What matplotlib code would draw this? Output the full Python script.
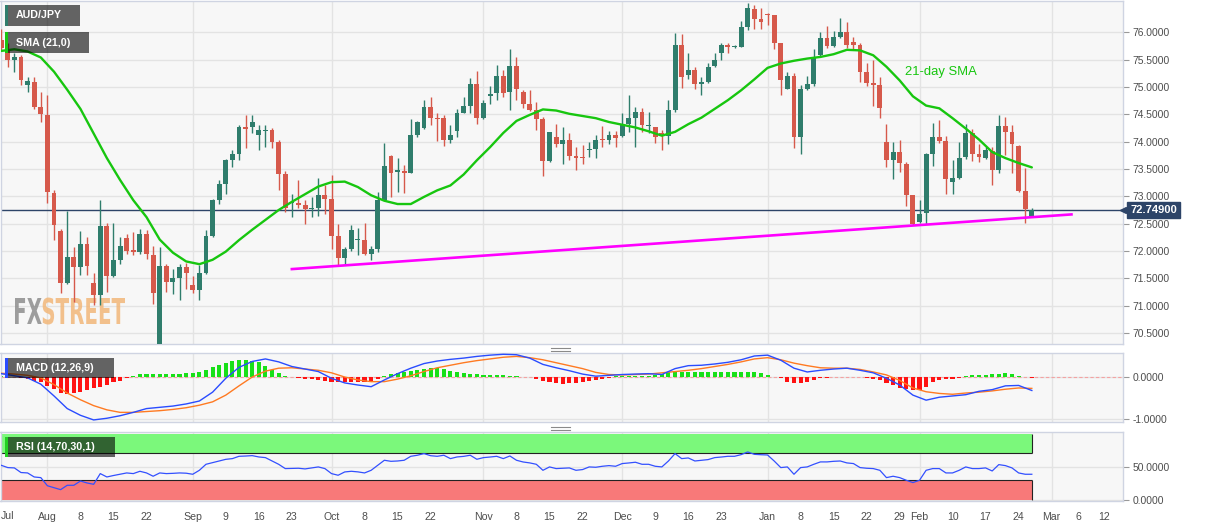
import numpy as np
import pandas as pd
import matplotlib
matplotlib.use("Agg")
import matplotlib.pyplot as plt
from matplotlib.patches import Rectangle, PathPatch
from matplotlib.lines import Line2D
from matplotlib.textpath import TextPath
from matplotlib.font_manager import FontProperties
from matplotlib.transforms import Affine2D, blended_transform_factory

plt.rcParams['font.family'] = ['Liberation Sans', 'DejaVu Sans']

# ---------------- data (AUD/JPY daily) ----------------
dates = pd.bdate_range("2019-07-23", "2020-02-26")

open_ = [
    75.86, 75.70, 75.50, 75.54, 75.03, 75.10, 74.64,  # Jul
    74.49, 73.07, 72.37, 71.42, 71.90, 71.71, 72.12, 71.42, 71.20, 72.45, 71.54, 71.84, 72.23, 72.01, 71.98, 72.32,
    71.92, 70.20, 71.72, 71.43, 71.50, 71.70,  # Aug
    71.37, 71.28, 71.59, 72.27, 72.93, 73.22, 73.67, 73.78, 74.27, 74.27, 74.13, 74.20, 74.21, 73.99, 73.40, 72.87,
    72.88, 72.85, 72.76, 72.78, 73.02,  # Sep
    72.95, 72.28, 71.88, 72.04, 72.20, 72.21, 71.95, 72.04, 72.94, 73.73, 73.45, 73.47, 73.43, 74.12, 74.25, 74.63,
    74.44, 74.43, 74.04, 74.20, 74.53, 74.65, 75.05,  # Oct
    74.44, 74.84, 74.89, 75.20, 74.91, 75.39, 74.90, 74.69, 74.58, 74.41, 73.64, 74.08, 73.95, 74.03, 73.74, 73.72,
    73.84, 73.86, 74.05, 74.04, 74.12,  # Nov
    74.10, 74.33, 74.44, 74.55, 74.28, 74.26, 74.16, 74.10, 74.58, 75.77, 75.22, 75.31, 75.05, 75.10, 75.38, 75.63,
    75.76, 75.73, 75.74, 76.10, 76.42, 76.24,  # Dec
    76.33, 76.32, 75.81, 74.97, 75.20, 74.09, 74.97, 75.05, 75.58, 75.89, 75.75, 75.91, 76.01, 75.83, 75.76, 75.27,
    75.08, 75.04, 74.00, 73.66, 73.81, 73.60, 73.02,  # Jan
    72.53, 72.70, 73.77, 74.08, 74.02, 73.27, 73.33, 73.72, 74.16, 73.77, 73.71, 73.83, 73.48, 74.28, 74.17, 73.92,
    73.10, 72.65,  # Feb
]
high = [
    76.07, 75.80, 75.62, 75.58, 75.19, 75.19, 74.90,
    74.85, 73.11, 72.41, 72.73, 72.07, 72.37, 72.25, 71.59, 72.94, 72.51, 72.51, 72.25, 72.32, 72.34, 72.41, 72.38,
    72.10, 72.07, 71.77, 71.68, 71.77, 71.78,
    71.54, 71.74, 72.38, 72.96, 73.30, 73.69, 73.84, 74.30, 74.49, 74.49, 74.30, 74.30, 74.25, 74.03, 73.47, 73.05,
    73.30, 72.93, 72.99, 73.33, 73.20,
    73.39, 72.49, 72.07, 72.47, 72.43, 72.51, 72.10, 73.08, 73.97, 73.75, 73.71, 73.58, 74.41, 74.38, 74.76, 74.82,
    74.52, 74.49, 74.30, 74.59, 74.82, 75.16, 75.30,
    74.76, 75.02, 75.41, 75.31, 75.69, 75.55, 74.94, 74.94, 74.73, 74.46, 74.18, 74.33, 74.27, 74.16, 73.91, 73.94,
    74.00, 74.12, 74.29, 74.19, 74.19,
    74.52, 74.85, 74.64, 74.61, 74.55, 74.27, 74.21, 74.77, 75.98, 75.97, 75.63, 75.37, 75.19, 75.44, 75.62, 75.80,
    75.80, 75.76, 76.20, 76.54, 76.50, 76.44,
    76.35, 76.32, 75.81, 75.28, 75.26, 75.04, 75.20, 75.69, 76.01, 76.12, 76.03, 76.26, 76.18, 75.91, 75.81, 75.44,
    75.49, 75.18, 74.32, 74.00, 74.03, 73.63, 73.02,
    72.93, 73.80, 74.35, 74.40, 74.10, 73.67, 74.00, 74.32, 74.24, 73.95, 73.90, 73.90, 74.48, 74.46, 74.30, 73.94,
    73.51, 72.79,
]
low = [
    75.68, 75.37, 75.28, 75.03, 74.91, 74.59, 74.36,
    72.87, 72.21, 71.23, 71.40, 71.06, 71.57, 71.56, 71.02, 71.02, 71.25, 71.53, 71.77, 71.95, 71.92, 71.95, 71.86,
    71.04, 69.95, 71.25, 71.22, 71.11, 71.31,
    71.23, 71.10, 71.58, 72.26, 72.86, 73.05, 73.54, 73.67, 73.88, 74.16, 73.85, 73.90, 73.88, 73.11, 72.72, 72.62,
    72.78, 72.49, 72.62, 72.64, 72.68,
    72.04, 71.74, 71.74, 72.00, 71.92, 71.92, 71.83, 71.98, 72.93, 72.99, 73.08, 73.07, 73.42, 74.09, 74.24, 74.30,
    74.02, 73.92, 73.97, 74.08, 74.52, 74.52, 74.33,
    74.42, 74.69, 74.76, 74.82, 74.58, 74.76, 74.61, 74.57, 74.21, 73.37, 73.62, 73.90, 73.60, 73.67, 73.49, 73.60,
    73.72, 73.71, 73.90, 73.95, 73.90,
    74.08, 74.18, 73.90, 74.18, 74.16, 73.98, 73.84, 73.95, 74.55, 74.98, 75.14, 74.96, 74.85, 75.07, 75.37, 75.49,
    75.62, 75.72, 75.74, 76.04, 76.07, 76.07,
    76.13, 75.69, 74.85, 74.96, 73.88, 73.77, 74.95, 75.02, 75.55, 75.71, 75.74, 75.89, 75.71, 75.69, 75.10, 75.02,
    74.65, 74.43, 73.54, 73.31, 73.45, 72.82, 72.47,
    72.51, 72.50, 73.55, 73.98, 73.05, 73.05, 73.31, 73.69, 73.65, 73.63, 73.69, 73.20, 73.43, 73.75, 73.43, 73.08,
    72.51, 72.62,
]
close = [
    75.71, 75.50, 75.54, 75.13, 75.11, 74.64, 74.50,
    73.08, 72.48, 71.42, 71.90, 71.71, 72.12, 71.72, 71.20, 72.45, 71.54, 71.84, 72.09, 72.00, 71.98, 72.32, 71.94,
    71.23, 71.72, 71.43, 71.50, 71.70, 71.59,
    71.28, 71.59, 72.27, 72.93, 73.22, 73.67, 73.78, 74.27, 74.24, 74.36, 74.21, 74.22, 73.99, 73.40, 72.79, 72.90,
    72.85, 72.76, 72.78, 73.02, 72.95,
    72.28, 71.88, 72.04, 72.39, 72.21, 71.95, 72.04, 72.94, 73.55, 73.43, 73.48, 73.43, 74.12, 74.36, 74.63, 74.44,
    74.42, 74.04, 74.13, 74.53, 74.65, 75.05, 74.44,
    74.71, 74.88, 75.20, 74.89, 75.39, 74.97, 74.69, 74.58, 74.41, 73.64, 74.17, 73.95, 74.03, 73.74, 73.71, 73.70,
    73.86, 74.04, 74.03, 74.12, 74.06,
    74.33, 74.44, 74.55, 74.30, 74.31, 74.09, 74.10, 74.58, 75.77, 75.19, 75.31, 75.05, 75.10, 75.37, 75.50, 75.76,
    75.74, 75.75, 76.10, 76.44, 76.24, 76.18,
    76.32, 75.81, 75.13, 75.20, 74.09, 74.97, 75.05, 75.55, 75.89, 75.75, 75.91, 76.01, 75.77, 75.77, 75.27, 75.08,
    75.04, 74.61, 73.66, 73.81, 73.61, 73.02, 72.49,
    72.67, 73.77, 74.08, 74.02, 73.31, 73.33, 73.70, 74.16, 73.77, 73.72, 73.84, 73.48, 74.28, 74.18, 73.95, 73.10,
    72.76, 72.749,
]

# 21-day SMA, every second trading day
sma21 = [75.66, 75.69, 75.65, 75.54, 75.28, 74.95, 74.60, 74.15, 73.70, 73.30, 72.93, 72.62, 72.21, 71.97, 71.81,
         71.76, 71.84, 71.99, 72.20, 72.39, 72.57, 72.75, 72.90, 73.04, 73.18, 73.26, 73.27, 73.17, 73.02, 72.92,
         72.86, 72.86, 72.99, 73.11, 73.20, 73.40, 73.66, 73.90, 74.16, 74.38, 74.49, 74.59, 74.57, 74.51, 74.47,
         74.43, 74.36, 74.31, 74.26, 74.19, 74.11, 74.18, 74.32, 74.44, 74.60, 74.76, 74.94, 75.14, 75.35, 75.43,
         75.48, 75.52, 75.55, 75.60, 75.68, 75.67, 75.58, 75.37, 75.12, 74.83, 74.66, 74.61, 74.43, 74.24, 74.04,
         73.81, 73.70, 73.61, 73.53]

# MACD (12,26,9): lines every second trading day, histogram daily
macd_line = [0.07, 0.02, -0.03, -0.18, -0.46, -0.76, -0.92, -1.03, -0.99, -0.93, -0.85, -0.76, -0.73, -0.70, -0.65,
             -0.58, -0.37, -0.04, 0.22, 0.36, 0.42, 0.35, 0.24, 0.18, 0.12, -0.04, -0.15, -0.20, -0.24, -0.08, 0.07,
             0.20, 0.31, 0.37, 0.41, 0.44, 0.48, 0.51, 0.53, 0.52, 0.44, 0.29, 0.21, 0.14, 0.06, 0.01, 0.03, 0.05,
             0.06, 0.07, 0.05, 0.19, 0.26, 0.27, 0.30, 0.34, 0.40, 0.49, 0.51, 0.39, 0.20, 0.11, 0.15, 0.18, 0.20,
             0.15, 0.09, -0.04, -0.20, -0.44, -0.56, -0.49, -0.46, -0.43, -0.35, -0.31, -0.22, -0.21, -0.33]
signal_line = [0.08, 0.06, 0.03, -0.03, -0.19, -0.39, -0.55, -0.69, -0.79, -0.85, -0.85, -0.83, -0.81, -0.78, -0.74,
               -0.68, -0.60, -0.44, -0.22, -0.01, 0.13, 0.20, 0.21, 0.18, 0.15, 0.09, -0.01, -0.08, -0.12, -0.12,
               -0.06, 0.02, 0.12, 0.21, 0.27, 0.33, 0.38, 0.42, 0.46, 0.48, 0.45, 0.40, 0.33, 0.26, 0.19, 0.10, 0.05,
               0.04, 0.05, 0.06, 0.09, 0.12, 0.15, 0.19, 0.24, 0.29, 0.35, 0.42, 0.45, 0.40, 0.32, 0.26, 0.21, 0.20,
               0.20, 0.17, 0.11, 0.04, -0.09, -0.27, -0.36, -0.40, -0.42, -0.39, -0.37, -0.34, -0.30, -0.27, -0.28]
macd_hist = [
    0.02, 0.0, -0.02, -0.04, -0.06, -0.10, -0.14,
    -0.22, -0.30, -0.38, -0.41, -0.40, -0.36, -0.32, -0.28, -0.25, -0.20, -0.14, -0.10, -0.04, 0.02, 0.06, 0.06,
    0.05, 0.05, 0.06, 0.06, 0.07, 0.08,
    0.08, 0.12, 0.16, 0.22, 0.28, 0.32, 0.36, 0.40, 0.40, 0.38, 0.34, 0.26, 0.16, 0.08, 0.02, -0.01, -0.04, -0.06,
    -0.05, -0.08, -0.10,
    -0.12, -0.14, -0.14, -0.14, -0.12, -0.12, -0.10, -0.06, 0.02, 0.05, 0.08, 0.10, 0.14, 0.16, 0.18, 0.20, 0.20,
    0.18, 0.14, 0.10, 0.08, 0.06, 0.05,
    0.04, 0.04, 0.03, 0.03, 0.02, 0.02, 0.0, -0.02, -0.06, -0.10, -0.14, -0.16, -0.17, -0.16, -0.16, -0.14, -0.10,
    -0.08, -0.06, -0.04, 0.02,
    0.02, 0.02, 0.02, 0.02, 0.02, 0.04, 0.06, 0.10, 0.12, 0.12, 0.10, 0.10, 0.10, 0.10, 0.10, 0.10, 0.10, 0.10,
    0.12, 0.12, 0.10, 0.08,
    0.04, -0.02, -0.04, -0.12, -0.16, -0.16, -0.14, -0.08, -0.04, -0.04, 0.0, 0.0, 0.0, -0.02, -0.02, -0.04, -0.06,
    -0.08, -0.16, -0.20, -0.26, -0.30, -0.32,
    -0.32, -0.24, -0.14, -0.08, -0.06, -0.06, -0.04, 0.02, 0.04, 0.04, 0.04, 0.05, 0.06, 0.08, 0.07, 0.02, -0.02,
    -0.04,
]

# RSI (14), daily
rsi = [
    52.0, 48.5, 48.0, 41.0, 40.4, 34.3, 33.3,
    21.0, 18.0, 15.1, 21.7, 21.7, 28.2, 25.2, 23.2, 39.4, 34.3, 36.5, 38.4, 40.4, 39.4, 42.9, 40.4, 35.4, 40.4,
    39.4, 39.8, 40.4, 40.0,
    38.4, 44.4, 53.5, 56.0, 58.5, 61.0, 62.1, 65.6, 66.0, 66.6, 64.6, 63.6, 58.5, 53.5, 47.0, 47.2, 47.5, 46.5,
    48.0, 49.5, 47.0,
    39.4, 36.9, 41.9, 42.9, 42.0, 40.4, 44.4, 52.0, 59.6, 58.0, 58.5, 59.6, 65.6, 67.2, 69.7, 66.5, 65.6, 67.2,
    62.1, 64.6, 65.5, 67.2, 61.1,
    63.6, 64.5, 65.6, 62.1, 66.1, 59.6, 57.0, 55.6, 53.5, 44.4, 49.5, 47.0, 47.5, 48.0, 44.4, 45.5, 49.5, 49.0,
    50.5, 51.5, 50.5,
    54.6, 55.5, 56.6, 53.5, 53.5, 50.5, 49.5, 58.5, 69.7, 62.1, 63.1, 58.5, 59.5, 60.6, 63.6, 64.5, 65.6, 65.6,
    68.1, 72.2, 68.6, 68.0,
    67.6, 58.5, 48.5, 49.5, 38.4, 48.5, 49.5, 53.5, 57.1, 57.1, 58.0, 58.5, 55.6, 54.6, 48.5, 47.5, 47.0, 44.4,
    33.3, 35.4, 33.3, 29.3, 25.8,
    29.3, 44.4, 47.0, 47.0, 40.4, 40.4, 44.4, 49.5, 47.0, 47.0, 48.0, 43.4, 53.0, 51.5, 48.0, 40.4, 38.4, 38.4,
]

# support trend line (drawn by the analyst)
trend_dates = ["2019-09-23", "2020-03-05"]
trend_prices = [71.67, 72.67]

month_starts = ["2019-08-01", "2019-09-02", "2019-10-01", "2019-11-01", "2019-12-02", "2020-01-01",
                "2020-02-03", "2020-03-02"]
tick_dates = ["2019-08-01", "2019-08-08", "2019-08-15", "2019-08-22", "2019-09-02", "2019-09-09", "2019-09-16",
              "2019-09-23", "2019-10-01", "2019-10-08", "2019-10-15", "2019-10-22", "2019-11-01", "2019-11-08",
              "2019-11-15", "2019-11-22", "2019-12-02", "2019-12-09", "2019-12-16", "2019-12-23", "2020-01-01",
              "2020-01-08", "2020-01-15", "2020-01-22", "2020-01-29", "2020-02-03", "2020-02-10", "2020-02-17",
              "2020-02-24", "2020-03-02", "2020-03-06", "2020-03-12"]
tick_labels = ["Aug", "8", "15", "22", "Sep", "9", "16", "23", "Oct", "8", "15", "22", "Nov", "8", "15", "22",
               "Dec", "9", "16", "23", "Jan", "8", "15", "22", "29", "Feb", "10", "17", "24", "Mar", "6", "12"]

# ---------------- styling ----------------
GREEN = "#2f7d6c"
RED = "#d6594b"
SMA_C = "#17c60f"
NAVY = "#2d4468"
GRID = "#e3e3e3"
SPINE = "#cfd4e2"
LABEL = "#4d4d4d"

W, H = 1207, 526
fig = plt.figure(figsize=(W / 100, H / 100), dpi=100)
fig.patch.set_facecolor("white")


def px_rect(x0, y0, x1, y1):
    return [x0 / W, 1 - y1 / H, (x1 - x0) / W, (y1 - y0) / H]


ax = fig.add_axes(px_rect(0.5, 1, 1123, 344))
ax_m = fig.add_axes(px_rect(0.5, 353, 1123, 422))
ax_r = fig.add_axes(px_rect(0.5, 432, 1123, 501))

all_days = pd.bdate_range("2019-07-23", "2020-03-31")
n = len(dates)
x = np.arange(n)
month_x = all_days.get_indexer(pd.to_datetime(month_starts))
XLIM = (-0.1, 169.8)

for a in (ax, ax_m, ax_r):
    a.set_facecolor("#f7f7f7")
    for s in a.spines.values():
        s.set_color(SPINE)
        s.set_linewidth(1)
    a.yaxis.tick_right()
    a.tick_params(axis="y", labelsize=7.4, labelcolor=LABEL, color="#999999", length=4, width=0.8, pad=3)
    a.yaxis.grid(True, color=GRID, lw=1)
    a.set_axisbelow(True)
    for mx in month_x:
        a.axvline(mx, color=GRID, lw=1, zorder=0)
    a.set_xlim(XLIM)

# ---- price panel ----
o = np.array(open_)
c = np.array(close)
up = c >= o
cols = np.where(up, GREEN, RED)
ax.vlines(x, low, high, colors=cols, lw=1, zorder=3)
ax.bar(x, np.maximum(np.abs(c - o), 0.015), bottom=np.minimum(o, c), width=0.74, color=cols, lw=0, zorder=4)

ax.plot(x[::2], sma21, color=SMA_C, lw=1.7, zorder=5, solid_capstyle="round")
trend_x = all_days.get_indexer(pd.to_datetime(trend_dates))
ax.plot(trend_x, trend_prices, color="#ff00ff", lw=1.9, zorder=5)

last = close[-1]
ax.axhline(last, color=NAVY, lw=1, zorder=2)
ax.text(142.2, 75.28, "21-day SMA", color=SMA_C, fontsize=9.4, ha="center", va="center", zorder=6)

ax.set_yticks(np.arange(70.5, 76.01, 0.5))
ax.set_yticklabels([f"{v:.4f}" for v in np.arange(70.5, 76.01, 0.5)])
ax.set_ylim(70.30, 76.573)
ax.set_xticks([])

tr = blended_transform_factory(ax.transAxes, ax.transData)
ax.plot([1.0], [last], marker="<", ms=5, color=NAVY, transform=tr, clip_on=False, zorder=8)
ax.text(1.0065, last, f"{last:.5f}", transform=tr, color="white", fontsize=8, fontweight="bold",
        va="center", ha="left", zorder=8,
        bbox=dict(boxstyle="square,pad=0.28", fc=NAVY, ec=NAVY))

# FXSTREET watermark
fp = FontProperties(family="DejaVu Sans", weight="bold")
p_fx = TextPath((0, 0), "FX", size=1, prop=fp)
p_st = TextPath((0, 0), "STREET", size=1, prop=fp)
e_fx, e_st = p_fx.get_extents(), p_st.get_extents()
sx = 110 / (e_fx.width + e_st.width + 0.05)
sy = 26 / e_fx.height
base_y = H - 324
ax.add_patch(PathPatch(p_fx, transform=Affine2D().translate(-e_fx.x0, 0).scale(sx, sy).translate(15, base_y),
                       fc="#8e8e8e", lw=0, alpha=0.85, zorder=1, clip_on=False))
ax.add_patch(PathPatch(p_st, transform=Affine2D().translate(-e_st.x0, 0).scale(sx, sy)
                       .translate(15 + (e_fx.width + 0.05) * sx, base_y),
                       fc="#f2b779", lw=0, alpha=0.85, zorder=1, clip_on=False))
ax.set_xlim(XLIM)
ax.set_ylim(70.30, 76.573)

# ---- MACD panel ----
h = np.array(macd_hist)
ax_m.bar(x, h, width=0.62, color=np.where(h >= 0, "#18e018", "#ff1212"), lw=0, zorder=2)
ax_m.axhline(0, color="#f3a3a3", lw=0.8, ls=(0, (3, 2)), zorder=1)
ax_m.plot(x[::2], signal_line, color="#ff7a22", lw=1.0, zorder=3)
ax_m.plot(x[::2], macd_line, color="#2a4cff", lw=1.0, zorder=4)
ax_m.set_ylim(-1.079, 0.561)
ax_m.set_yticks([0, -1])
ax_m.set_yticklabels(["0.0000", "-1.0000"])
ax_m.set_xticks([])

# ---- RSI panel ----
last_x = x[-1]
ax_r.add_patch(Rectangle((XLIM[0], 70), last_x - XLIM[0], 30, fc="#7bf87b", lw=0, zorder=1))
ax_r.add_patch(Rectangle((XLIM[0], 0), last_x - XLIM[0], 30, fc="#f87979", lw=0, zorder=1))
ax_r.hlines([70, 30], XLIM[0], last_x, color="#222222", lw=0.8, zorder=2)
ax_r.vlines([last_x, last_x], [70, 0], [100, 30], color="#222222", lw=0.8, zorder=2)
ax_r.vlines([0.05, 0.05], [70, 0], [100, 30], color="#222222", lw=1.2, zorder=2)
ax_r.plot(x, rsi, color="#3350ff", lw=0.9, zorder=3)
ax_r.set_ylim(-2.1, 102.4)
ax_r.set_yticks([0, 50])
ax_r.set_yticklabels(["0.0000", "50.0000"])
tick_x = all_days.get_indexer(pd.to_datetime(tick_dates))
ax_r.set_xticks(tick_x)
ax_r.set_xticklabels(tick_labels)
ax_r.tick_params(axis="x", labelsize=7.6, labelcolor=LABEL, length=0, pad=8)
ax_r.set_xlim(XLIM)
fig.text(1 / W, 1 - 516 / H, "Jul", fontsize=7.6, color=LABEL, ha="left", va="center")


# ---- indicator name tags ----
def tag(x0, y0, x1, y1, text, bar):
    fig.add_artist(Rectangle((x0 / W, 1 - y1 / H), (x1 - x0) / W, (y1 - y0) / H, transform=fig.transFigure,
                             fc="black", alpha=0.6, lw=0, zorder=10))
    fig.add_artist(Rectangle((x0 / W, 1 - y1 / H), 2.5 / W, (y1 - y0) / H, transform=fig.transFigure,
                             fc=bar, lw=0, zorder=11))
    fig.text((x0 + 11) / W, 1 - (y0 + y1) / 2 / H, text, color="white", fontsize=7.7, fontweight="bold",
             ha="left", va="center", zorder=12)


tag(5, 5, 80, 26, "AUD/JPY", GREEN)
tag(5, 32, 89, 53, "SMA (21,0)", SMA_C)
tag(5, 358, 114, 378, "MACD (12,26,9)", "#2a4cff")
tag(5, 437, 115, 457, "RSI (14,70,30,1)", "#22d022")

# panel resize handles
for yc in (349, 428):
    for dy in (-1.5, 1.5):
        fig.add_artist(Line2D([551 / W, 570 / W], [1 - (yc + dy) / H] * 2, color="#8a8a8a", lw=0.8))

fig.savefig("out.png", dpi=100)
